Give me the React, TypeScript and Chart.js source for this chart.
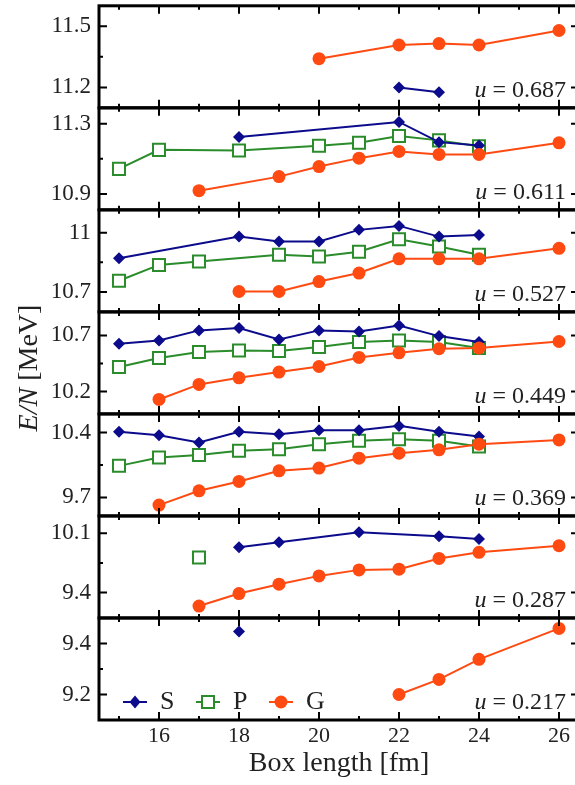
import React, { useEffect, useRef } from 'react';
import { Chart, registerables } from 'chart.js';

Chart.register(...registerables);

// ---------- data ----------
const boxLengths = [15, 16, 17, 18, 19, 20, 21, 22, 23, 24, 26];
const uLabels = ['0.687', '0.611', '0.527', '0.449', '0.369', '0.287', '0.217'];

// u = 0.687
const S_0687 = [null, null, null, null, null, null, null, 11.2, 11.176, null, null];
const P_0687 = [null, null, null, null, null, null, null, null, null, null, null];
const G_0687 = [null, null, null, null, null, 11.341, null, 11.408, 11.415, 11.408, 11.479];
// u = 0.611
const S_0611 = [null, null, null, 11.224, null, null, null, 11.31, 11.195, 11.176, null];
const P_0611 = [11.043, 11.151, null, 11.147, null, 11.174, 11.191, 11.23, 11.205, 11.172, null];
const G_0611 = [null, null, 10.919, null, 10.999, 11.056, 11.104, 11.142, 11.125, 11.125, 11.191];
// u = 0.527
const S_0527 = [10.871, null, null, 10.98, 10.955, 10.955, 11.014, 11.034, 10.98, 10.988, null];
const P_0527 = [10.757, 10.837, 10.854, null, 10.888, 10.879, 10.904, 10.967, 10.93, 10.888, null];
const G_0527 = [null, null, null, 10.703, 10.703, 10.753, 10.796, 10.868, 10.868, 10.868, 10.921];
// u = 0.449
const S_0449 = [10.626, 10.655, 10.745, 10.766, 10.664, 10.745, 10.736, 10.789, 10.694, 10.641, null];
const P_0449 = [10.418, 10.498, 10.552, 10.566, 10.561, 10.596, 10.641, 10.655, 10.641, 10.587, null];
const G_0449 = [null, 10.129, 10.263, 10.322, 10.373, 10.423, 10.504, 10.545, 10.581, 10.587, 10.646];
// u = 0.369
const S_0369 = [10.407, 10.371, 10.292, 10.407, 10.382, 10.425, 10.425, 10.471, 10.407, 10.357, null];
const P_0369 = [10.04, 10.131, 10.156, 10.202, 10.22, 10.274, 10.31, 10.328, 10.31, 10.249, null];
const G_0369 = [null, 9.617, 9.771, 9.872, 9.986, 10.016, 10.123, 10.177, 10.213, 10.274, 10.32];
// u = 0.287
const S_0287 = [null, null, null, 9.934, 9.993, null, 10.112, null, 10.064, 10.032, null];
const P_0287 = [null, null, 9.815, null, null, null, null, null, null, null, null];
const G_0287 = [null, null, 9.241, 9.388, 9.499, 9.597, 9.668, 9.676, 9.803, 9.875, 9.953];
// u = 0.217
const S_0217 = [null, null, null, 9.447, null, null, null, null, null, null, null];
const P_0217 = [null, null, null, null, null, null, null, null, null, null, null];
const G_0217 = [null, null, null, null, null, null, null, 9.2, 9.259, 9.338, 9.459];

const sSeries = [S_0687, S_0611, S_0527, S_0449, S_0369, S_0287, S_0217];
const pSeries = [P_0687, P_0611, P_0527, P_0449, P_0369, P_0287, P_0217];
const gSeries = [G_0687, G_0611, G_0527, G_0449, G_0369, G_0287, G_0217];

// axis ranges & ticks per panel (top to bottom)
const yMins = [11.1, 10.81, 10.6, 10.0, 9.5, 9.1, 9.1];
const yMaxs = [11.6, 11.39, 11.115, 10.91, 10.6, 10.305, 9.5];
const yMajorTicks = [[11.2, 11.5], [10.9, 11.3], [10.7, 11.0], [10.2, 10.7], [9.7, 10.4], [9.4, 10.1], [9.2, 9.4]];
const yMinorTicks = [[11.35], [11.1], [10.85], [10.45], [10.05], [9.75], [9.3]];
const xMajorTicks = [16, 18, 20, 22, 24, 26];
const xMinorTicks = [15, 17, 19, 21, 23, 25];
const seriesNames = ['S', 'P', 'G'];

// ---------- styles ----------
const FONT = "'Liberation Serif', 'Times New Roman', serif";
const COL_S = '#0b0b8c';
const COL_P = '#2a8c2a';
const COL_G = '#ff4a12';
const SHIFT = 16;

function toPoints(vals: (number | null)[]) {
  return boxLengths
    .map((x, i) => ({ x, y: vals[i] }))
    .filter((p) => p.y !== null && p.y !== undefined);
}

function drawMarker(ctx: CanvasRenderingContext2D, kind: string, x: number, y: number) {
  ctx.save();
  if (kind === 'S') {
    ctx.fillStyle = COL_S;
    ctx.beginPath();
    ctx.moveTo(x, y - 6.5);
    ctx.lineTo(x + 5.5, y);
    ctx.lineTo(x, y + 6.5);
    ctx.lineTo(x - 5.5, y);
    ctx.closePath();
    ctx.fill();
  } else if (kind === 'P') {
    ctx.fillStyle = '#fff';
    ctx.strokeStyle = COL_P;
    ctx.lineWidth = 2;
    ctx.fillRect(x - 6, y - 6, 12, 12);
    ctx.strokeRect(x - 6, y - 6, 12, 12);
  } else {
    ctx.fillStyle = COL_G;
    ctx.beginPath();
    ctx.arc(x, y, 6.5, 0, Math.PI * 2);
    ctx.fill();
  }
  ctx.restore();
}

const decorPlugin = {
  id: 'panelDecor',
  afterDraw(chart: any) {
    const ctx: CanvasRenderingContext2D = chart.ctx;
    const { left, right } = chart.chartArea;
    const xs = chart.scales.x;
    ctx.save();
    for (let i = 0; i < 7; i++) {
      const ys = chart.scales['y' + i];
      const top = ys.top;
      const bottom = ys.bottom;
      ctx.strokeStyle = '#000';
      ctx.lineWidth = 2;
      ctx.beginPath();
      for (const v of xMajorTicks) {
        const px = xs.getPixelForValue(v);
        ctx.moveTo(px, top); ctx.lineTo(px, top + 8);
        ctx.moveTo(px, bottom); ctx.lineTo(px, bottom - 8);
      }
      for (const v of xMinorTicks) {
        const px = xs.getPixelForValue(v);
        ctx.moveTo(px, top); ctx.lineTo(px, top + 4);
        ctx.moveTo(px, bottom); ctx.lineTo(px, bottom - 4);
      }
      for (const v of yMajorTicks[i]) {
        const py = ys.getPixelForValue(v);
        ctx.moveTo(left, py); ctx.lineTo(left + 8, py);
        ctx.moveTo(right, py); ctx.lineTo(right - 8, py);
      }
      for (const v of yMinorTicks[i]) {
        const py = ys.getPixelForValue(v);
        ctx.moveTo(left, py); ctx.lineTo(left + 4, py);
        ctx.moveTo(right, py); ctx.lineTo(right - 4, py);
      }
      ctx.stroke();
      ctx.lineWidth = 3;
      ctx.strokeRect(left, top, right - left, bottom - top);

      // u label
      const rest = ' = ' + uLabels[i];
      const y = bottom - 17;
      ctx.fillStyle = '#222';
      ctx.textBaseline = 'middle';
      ctx.textAlign = 'left';
      ctx.font = `24px ${FONT}`;
      const w2 = ctx.measureText(rest).width;
      ctx.font = `italic 24px ${FONT}`;
      const w1 = ctx.measureText('u').width;
      const xr = 566;
      ctx.fillText('u', xr - w2 - w1, y);
      ctx.font = `24px ${FONT}`;
      ctx.fillText(rest, xr - w2, y);
    }

    // legend in the bottom panel
    const yb = chart.scales.y6;
    const ly = yb.bottom - 18;
    const legendX = [135, 208, 281];
    const cols = [COL_S, COL_P, COL_G];
    seriesNames.forEach((name, k) => {
      const cx = legendX[k];
      ctx.strokeStyle = cols[k];
      ctx.lineWidth = 2;
      ctx.beginPath();
      ctx.moveTo(cx - 12, ly);
      ctx.lineTo(cx + 12, ly);
      ctx.stroke();
      drawMarker(ctx, name, cx, ly);
      ctx.fillStyle = '#222';
      ctx.font = `26px ${FONT}`;
      ctx.textAlign = 'left';
      ctx.textBaseline = 'middle';
      ctx.fillText(name, cx + 25, ly);
    });

    // y-axis title
    ctx.save();
    ctx.translate(30, 368 + SHIFT);
    ctx.rotate(-Math.PI / 2);
    ctx.fillStyle = '#222';
    ctx.textBaseline = 'middle';
    ctx.font = `italic 28px ${FONT}`;
    const a = 'E/N';
    const wa = ctx.measureText(a).width;
    ctx.font = `28px ${FONT}`;
    const b = ' [MeV]';
    const wb = ctx.measureText(b).width;
    const start = -(wa + wb) / 2;
    ctx.font = `italic 28px ${FONT}`;
    ctx.textAlign = 'left';
    ctx.fillText(a, start, 0);
    ctx.font = `28px ${FONT}`;
    ctx.fillText(b, start + wa, 0);
    ctx.restore();

    ctx.restore();
  },
};

export default function App() {
  const ref = useRef<HTMLCanvasElement | null>(null);

  useEffect(() => {
    if (!ref.current) return;
    const datasets: any[] = [];
    for (let i = 0; i < 7; i++) {
      const yid = 'y' + i;
      datasets.push({
        label: 'S',
        data: toPoints(sSeries[i]),
        yAxisID: yid,
        borderColor: COL_S,
        backgroundColor: COL_S,
        borderWidth: 2,
        pointStyle: 'rectRot',
        pointRadius: 6,
        pointBorderWidth: 0,
        order: 1,
      });
      datasets.push({
        label: 'P',
        data: toPoints(pSeries[i]),
        yAxisID: yid,
        borderColor: COL_P,
        backgroundColor: COL_P,
        pointBackgroundColor: '#ffffff',
        pointBorderColor: COL_P,
        borderWidth: 2,
        pointStyle: 'rect',
        pointRadius: 8.5,
        pointBorderWidth: 2,
        order: 2,
      });
      datasets.push({
        label: 'G',
        data: toPoints(gSeries[i]),
        yAxisID: yid,
        borderColor: COL_G,
        backgroundColor: COL_G,
        borderWidth: 2,
        pointStyle: 'circle',
        pointRadius: 6.5,
        pointBorderWidth: 0,
        order: 0,
      });
    }

    const scales: any = {
      x: {
        type: 'linear',
        min: 14.5,
        max: 26.5,
        afterBuildTicks: (s: any) => {
          s.ticks = xMajorTicks.map((v) => ({ value: v }));
        },
        afterFit: (s: any) => {
          s.height = 65;
        },
        grid: { display: false, drawTicks: false },
        border: { display: false },
        ticks: {
          color: '#222',
          font: { family: FONT, size: 22 },
          padding: 3,
          autoSkip: false,
          maxRotation: 0,
          callback: (v: any) => String(Number(v)),
        },
        title: {
          display: true,
          text: 'Box length [fm]',
          color: '#222',
          font: { family: FONT, size: 28 },
          padding: { top: 0, bottom: 5 },
        },
      },
    };
    for (let i = 6; i >= 0; i--) {
      scales['y' + i] = {
        type: 'linear',
        position: 'left',
        stack: 'panels',
        stackWeight: 1,
        min: yMins[i],
        max: yMaxs[i],
        afterBuildTicks: (s: any) => {
          s.ticks = yMajorTicks[i].map((v) => ({ value: v }));
        },
        afterFit: (s: any) => {
          s.width = 99;
        },
        grid: { display: false, drawTicks: false },
        border: { display: false },
        ticks: {
          color: '#222',
          font: { family: FONT, size: 23 },
          padding: 8,
          autoSkip: false,
          callback: (v: any) => String(Number(v)),
        },
      };
    }

    const chart = new Chart(ref.current, {
      type: 'line',
      data: { datasets },
      options: {
        responsive: false,
        animation: false,
        devicePixelRatio: 1,
        events: [],
        spanGaps: true,
        layout: { autoPadding: false, padding: { left: 0, top: 4, right: 21, bottom: 0 } },
        plugins: { legend: { display: false }, tooltip: { enabled: false } },
        scales,
      } as any,
      plugins: [decorPlugin],
    });
    return () => chart.destroy();
  }, []);

  return (
    <div
      style={{
        position: 'fixed',
        left: 0,
        top: 0,
        width: 575,
        height: 785,
        overflow: 'hidden',
        background: '#fff',
      }}
    >
      <canvas
        ref={ref}
        width={600}
        height={785 + SHIFT}
        style={{ width: 600, height: 785 + SHIFT, display: 'block', marginTop: -SHIFT }}
      />
    </div>
  );
}
